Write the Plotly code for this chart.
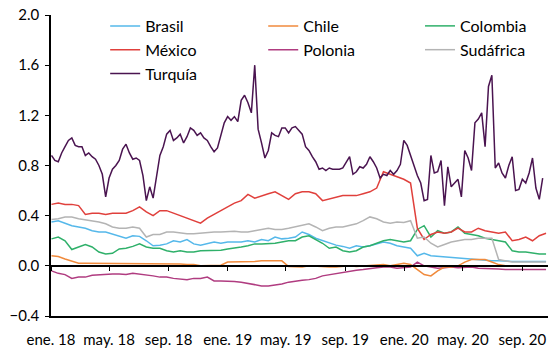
import pandas as pd
import plotly.graph_objects as go

# ---------------- data ----------------
weekly_dates = pd.date_range("2018-01-02", periods=146, freq="7D")
biweekly_dates = pd.date_range("2018-01-02", periods=74, freq="14D")

tick_dates = ["2018-01-01", "2018-05-01", "2018-09-01", "2019-01-01", "2019-05-01",
              "2019-09-01", "2020-01-01", "2020-05-01", "2020-09-01"]
tick_labels = ["ene. 18", "may. 18", "sep. 18", "ene. 19", "may. 19",
               "sep. 19", "ene. 20", "may. 20", "sep. 20"]

brasil = [0.35, 0.36, 0.34, 0.32, 0.31, 0.30, 0.28, 0.27, 0.27, 0.255,
          0.24, 0.22, 0.24, 0.235, 0.20, 0.16, 0.165, 0.175, 0.20, 0.19,
          0.21, 0.175, 0.165, 0.175, 0.19, 0.18, 0.19, 0.19, 0.19, 0.20,
          0.19, 0.21, 0.20, 0.23, 0.215, 0.22, 0.23, 0.27, 0.25, 0.22,
          0.20, 0.18, 0.165, 0.155, 0.14, 0.16, 0.15, 0.16, 0.175, 0.19,
          0.18, 0.16, 0.15, 0.14, 0.08, 0.10, 0.08, 0.075, 0.07, 0.065,
          0.06, 0.055, 0.05, 0.045, 0.04, 0.04, 0.04, 0.035, 0.035, 0.035,
          0.035, 0.035, 0.035, 0.035]

chile = [0.08, 0.074, 0.055, 0.035, 0.02, 0.02, 0.02, 0.02, 0.02, 0.02,
         0.02, 0.02, 0.02, 0.02, 0.02, 0.02, 0.02, 0.02, 0.02, 0.015,
         0.01, 0.01, 0.0, 0.0, 0.0, 0.005, 0.03, 0.03, 0.03, 0.03,
         0.035, 0.04, 0.04, 0.04, 0.04, -0.005, -0.01, -0.01, 0.0, -0.005,
         -0.01, -0.01, -0.01, -0.005, 0.0, -0.005, 0.0, 0.0, 0.005, 0.01,
         0.0, 0.01, 0.02, 0.01, -0.03, -0.07, -0.08, -0.04, -0.01, -0.01,
         0.0, 0.03, 0.05, 0.05, 0.05, 0.03, 0.01, 0.0, 0.0, -0.005,
         0.0, 0.0, 0.0, 0.0]

colombia = [0.215, 0.23, 0.20, 0.13, 0.15, 0.17, 0.15, 0.11, 0.095, 0.10,
            0.135, 0.14, 0.155, 0.175, 0.15, 0.14, 0.14, 0.12, 0.11, 0.12,
            0.11, 0.11, 0.12, 0.12, 0.125, 0.125, 0.135, 0.14, 0.15, 0.16,
            0.175, 0.175, 0.175, 0.18, 0.19, 0.20, 0.20, 0.23, 0.24, 0.21,
            0.18, 0.14, 0.15, 0.12, 0.11, 0.12, 0.15, 0.16, 0.18, 0.20,
            0.21, 0.20, 0.19, 0.20, 0.29, 0.32, 0.23, 0.28, 0.26, 0.27,
            0.31, 0.26, 0.25, 0.24, 0.22, 0.21, 0.20, 0.19, 0.12, 0.11,
            0.11, 0.10, 0.095, 0.095]

mexico = [0.49, 0.50, 0.49, 0.49, 0.48, 0.41, 0.42, 0.42, 0.41, 0.42,
          0.42, 0.42, 0.44, 0.47, 0.43, 0.40, 0.44, 0.44, 0.42, 0.40,
          0.38, 0.36, 0.34, 0.38, 0.41, 0.44, 0.47, 0.50, 0.52, 0.57,
          0.54, 0.56, 0.575, 0.59, 0.56, 0.53, 0.575, 0.59, 0.59, 0.575,
          0.52, 0.535, 0.55, 0.56, 0.56, 0.56, 0.575, 0.59, 0.62, 0.75,
          0.73, 0.71, 0.69, 0.66, 0.30, 0.21, 0.25, 0.27, 0.26, 0.27,
          0.30, 0.27, 0.27, 0.30, 0.28, 0.27, 0.26, 0.27, 0.20, 0.21,
          0.23, 0.20, 0.24, 0.26]

polonia = [-0.04, -0.06, -0.07, -0.10, -0.09, -0.09, -0.075, -0.07, -0.07, -0.065,
           -0.065, -0.07, -0.06, -0.065, -0.07, -0.08, -0.09, -0.09, -0.10, -0.105,
           -0.11, -0.10, -0.10, -0.09, -0.12, -0.12, -0.12, -0.125, -0.13, -0.14,
           -0.145, -0.16, -0.16, -0.155, -0.145, -0.13, -0.12, -0.115, -0.11, -0.10,
           -0.08, -0.07, -0.06, -0.05, -0.04, -0.035, -0.03, -0.02, -0.015, -0.01,
           -0.01, -0.02, -0.015, -0.01, 0.03, 0.0, -0.01, -0.02, -0.015, -0.01,
           -0.015, -0.01, -0.01, -0.02, -0.02, -0.02, -0.025, -0.03, -0.03, -0.03,
           -0.03, -0.03, -0.03, -0.03]

sudafrica = [0.37, 0.375, 0.39, 0.39, 0.375, 0.367, 0.356, 0.35, 0.335, 0.31,
             0.30, 0.30, 0.31, 0.30, 0.23, 0.25, 0.25, 0.27, 0.27, 0.26,
             0.255, 0.255, 0.26, 0.27, 0.27, 0.27, 0.275, 0.275, 0.27, 0.27,
             0.28, 0.29, 0.30, 0.29, 0.29, 0.30, 0.31, 0.32, 0.335, 0.31,
             0.28, 0.30, 0.31, 0.31, 0.32, 0.335, 0.36, 0.39, 0.375, 0.35,
             0.34, 0.35, 0.345, 0.36, 0.22, 0.23, 0.18, 0.15, 0.17, 0.19,
             0.20, 0.21, 0.21, 0.22, 0.22, 0.22, 0.05, 0.04, 0.03, 0.03,
             0.03, 0.03, 0.03, 0.03]

turquia = [0.88, 0.84, 0.83, 0.90, 0.95, 1.00, 1.02, 0.96, 0.95, 0.95,
           0.88, 0.90, 0.87, 0.85, 0.80, 0.73, 0.55, 0.70, 0.77, 0.80,
           0.84, 0.93, 0.97, 0.90, 0.85, 0.86, 0.84, 0.72, 0.52, 0.63,
           0.54, 0.72, 0.88, 0.95, 1.05, 1.08, 1.00, 1.02, 1.05, 0.98,
           1.03, 1.10, 1.08, 1.04, 1.06, 1.02, 1.00, 0.95, 0.91, 0.94,
           1.05, 1.14, 1.19, 1.16, 1.19, 1.15, 1.32, 1.36, 1.30, 1.22,
           1.60, 1.09, 0.98, 0.86, 0.92, 1.06, 1.04, 1.03, 1.10, 1.10,
           1.06, 1.10, 1.11, 1.08, 1.05, 0.95, 0.92, 0.87, 0.83, 0.77,
           0.78, 0.76, 0.78, 0.77, 0.77, 0.77, 0.78, 0.83, 0.87, 0.73,
           0.75, 0.79, 0.78, 0.81, 0.87, 0.83, 0.78, 0.70, 0.73, 0.72,
           0.76, 0.73, 0.76, 0.81, 1.00, 0.96, 0.88, 0.80, 0.72, 0.66,
           0.52, 0.53, 0.88, 0.74, 0.75, 0.84, 0.48, 0.79, 0.63, 0.66,
           0.69, 0.55, 0.92, 0.86, 0.76, 1.14, 1.17, 1.22, 0.95, 1.43,
           1.52, 0.78, 0.82, 0.74, 0.70, 0.80, 0.87, 0.60, 0.61, 0.69,
           0.66, 0.74, 0.86, 0.62, 0.53, 0.70]

# name, dates, values, colour, legend column
series = [
    ("Brasil", biweekly_dates, brasil, "#55b8ea", "legend"),
    ("Chile", biweekly_dates, chile, "#f08a3c", "legend2"),
    ("Colombia", biweekly_dates, colombia, "#2fb06a", "legend3"),
    ("México", biweekly_dates, mexico, "#e0403c", "legend"),
    ("Polonia", biweekly_dates, polonia, "#b03c80", "legend2"),
    ("Sudáfrica", biweekly_dates, sudafrica, "#b4b4b4", "legend3"),
    ("Turquía", weekly_dates, turquia, "#4a1450", "legend"),
]

FONT = "Lato, 'Open Sans', sans-serif"

fig = go.Figure()
for name, dates, vals, col, leg in series:
    fig.add_trace(go.Scatter(
        x=dates, y=vals, name=name, mode="lines",
        line=dict(color=col, width=1.5), legend=leg,
        xaxis="x2" if name == "Chile" else "x",
    ))

x_range = ["2018-01-01", "2020-10-24"]


def legend_box(xpos):
    return dict(orientation="v", x=xpos, y=1.02, xanchor="left", yanchor="top",
                bgcolor="rgba(0,0,0,0)", font=dict(size=16, family=FONT),
                tracegroupgap=0)


fig.update_layout(
    width=548, height=354,
    margin=dict(l=51, r=0, t=15, b=38),
    paper_bgcolor="white", plot_bgcolor="white",
    font=dict(family=FONT, size=15, color="black"),
    showlegend=True,
    legend=legend_box(0.109),
    legend2=legend_box(0.427),
    legend3=legend_box(0.7425),
    xaxis=dict(
        type="date", range=x_range, tickmode="array",
        tickvals=tick_dates, ticktext=tick_labels,
        showgrid=False, zeroline=False,
        showline=True, linecolor="black", linewidth=1.5,
        ticks="", ticklabelstandoff=9, automargin=False,
        ticklabeloverflow="allow", tickfont=dict(size=15),
    ),
    xaxis2=dict(
        type="date", matches="x", overlaying="x", anchor="free",
        position=1 / 6, side="bottom",
        tickmode="array", tickvals=tick_dates,
        showticklabels=False, showgrid=False, zeroline=False,
        showline=True, linecolor="black", linewidth=1.5,
        ticks="outside", ticklen=4, tickcolor="black", tickwidth=1.2,
    ),
    yaxis=dict(
        range=[-0.4, 2.0], tickmode="array",
        tickvals=[-0.4, 0.0, 0.4, 0.8, 1.2, 1.6, 2.0],
        tickformat=".1f", showgrid=False, zeroline=False,
        showline=True, linecolor="black", linewidth=1.5,
        ticks="outside", ticklen=4, tickcolor="black",
        ticklabelstandoff=3, automargin=False,
        tickfont=dict(size=15),
    ),
)

fig.write_html("out.html",
               config={"displayModeBar": False},
               post_script="document.body.style.margin='0px';"
                           "document.body.style.overflow='hidden';")
